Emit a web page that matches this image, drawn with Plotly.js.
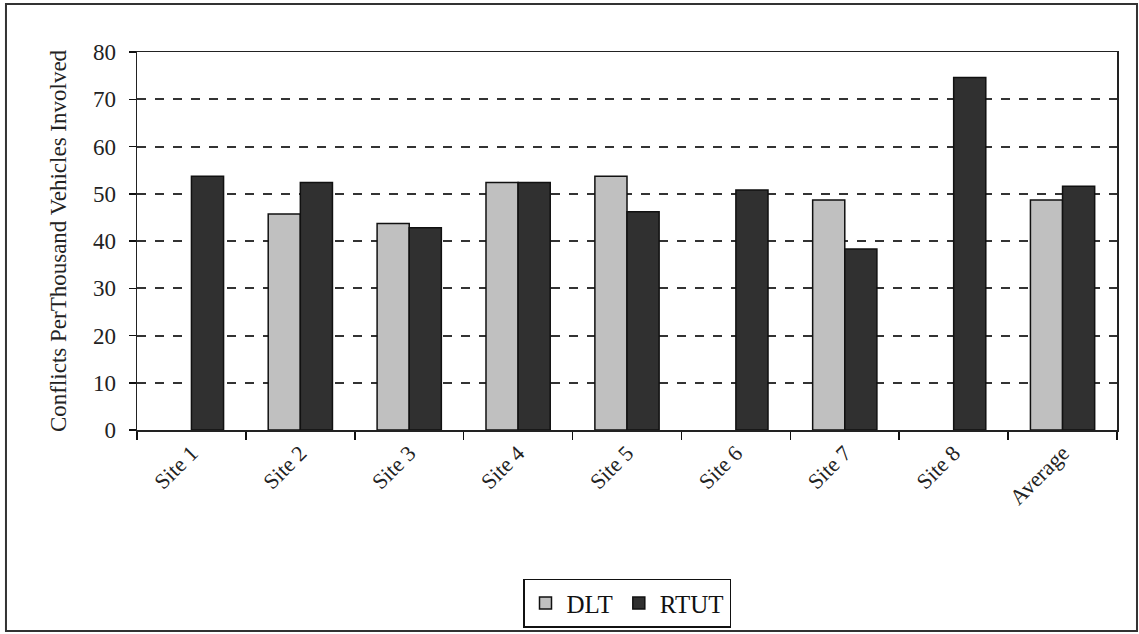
<!DOCTYPE html>
<html>
<head>
<meta charset="utf-8">
<script src="https://cdn.plot.ly/plotly-3.0.1.min.js"></script>
<style>html,body{margin:0;padding:0;background:#fff;}#chart{width:1139px;height:634px;}</style>
</head>
<body>
<div id="chart"></div>
<script>
const categories = ["Site 1","Site 2","Site 3","Site 4","Site 5","Site 6","Site 7","Site 8","Average"];
const dltValues = [null, 45.7, 43.7, 52.4, 53.7, null, 48.7, null, 48.7];
const rtutValues = [53.7, 52.4, 42.8, 52.4, 46.2, 50.8, 38.3, 74.6, 51.6];
const seriesNames = ["DLT", "RTUT"];
const yTicks = [0,10,20,30,40,50,60,70,80];

const serif = "Liberation Serif, Times New Roman, serif";
const traces = [
  {type:"bar", name:seriesNames[0], x:categories, y:dltValues,
   marker:{color:"#c0c0c0", line:{color:"#111", width:1.5}}},
  {type:"bar", name:seriesNames[1], x:categories, y:rtutValues,
   marker:{color:"#303030", line:{color:"#111", width:1.5}}}
];
const layout = {
  width:1139, height:634,
  margin:{l:137, r:22, t:52, b:204},
  paper_bgcolor:"#fff", plot_bgcolor:"#fff",
  barmode:"group", bargap:0.41, bargroupgap:0,
  font:{family:serif, color:"#222", size:22},
  showlegend:true,
  legend:{orientation:"h", x:0.5, xanchor:"center", xref:"paper",
          y:0.087, yanchor:"top", yref:"container",
          bordercolor:"#111", borderwidth:1.5, font:{family:serif, size:25, color:"#111"},
          itemwidth:32, tracegroupgap:0},
  xaxis:{type:"category", tickangle:-45, ticks:"outside", tickson:"boundaries", ticklen:8,
         tickcolor:"#111", tickwidth:1.5, showline:true, linecolor:"#222", linewidth:1.5, mirror:true,
         automargin:false,
         tickfont:{family:serif, size:22, color:"#222"}, showgrid:false, zeroline:false},
  yaxis:{range:[0,80], tickvals:yTicks, ticks:"outside", ticklen:7, tickcolor:"#111", tickwidth:1.5,
         showline:true, linecolor:"#222", linewidth:1.5, mirror:true, automargin:false,
         showgrid:true, gridcolor:"#333", gridwidth:2, griddash:"dash", zeroline:false,
         ticklabelstandoff:8,
         tickfont:{family:serif, size:23, color:"#222"},
         title:{text:"Conflicts PerThousand Vehicles Involved", font:{family:serif, size:23, color:"#222"}, standoff:20}},
  shapes:[{type:"rect", xref:"paper", yref:"paper", x0:-0.1337, x1:1.0204, y0:-0.532, y1:1.127,
           line:{color:"#333", width:2}, fillcolor:"rgba(0,0,0,0)", layer:"below"}]
};
Plotly.newPlot("chart", traces, layout, {displayModeBar:false, staticPlot:true});
</script>
</body>
</html>
